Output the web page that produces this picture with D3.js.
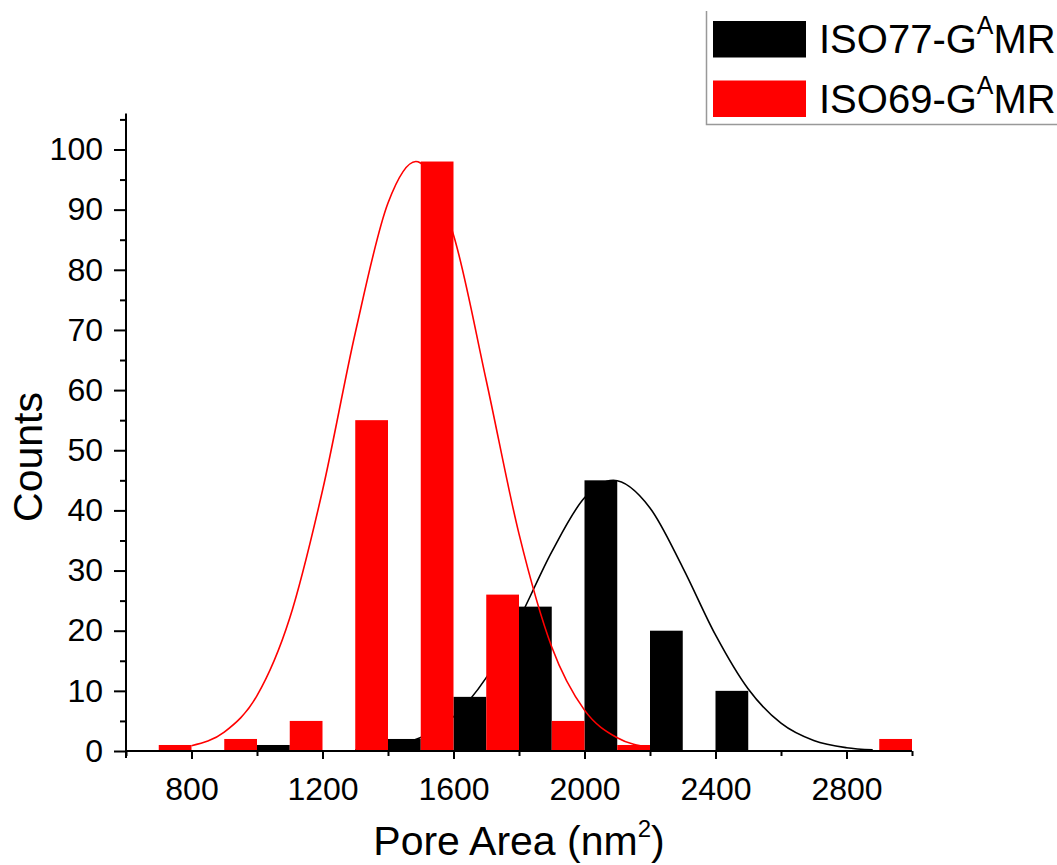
<!DOCTYPE html>
<html>
<head>
<meta charset="utf-8">
<script src="https://d3js.org/d3.v7.min.js"></script>
<style>
  body { margin: 0; background: #fff; }
  svg { display: block; font-family: Arial, "Liberation Sans", sans-serif; }
</style>
</head>
<body>
<svg id="chart" width="1057" height="865"></svg>
<script>
// histogram bins (pore area, nm2) - red bar sits left of the centre, black bar right of it
var binCenters = [800, 1000, 1200, 1400, 1600, 1800, 2000, 2200, 2400, 2600, 2800, 3000];
var iso77Counts = [0, 1, 0, 2, 9, 24, 45, 20, 10, 0, 0, 0];
var iso69Counts = [1, 2, 5, 55, 98, 26, 5, 1, 0, 0, 0, 2];

// gaussian fit curves
var iso77FitX = [1300, 1400, 1500, 1600, 1700, 1800, 1900, 2000, 2088, 2200, 2300, 2400, 2500, 2600, 2700, 2800, 2880];
var iso77FitY = [0.21, 0.74, 2.24, 5.69, 12.2, 21.9, 33.1, 42.1, 45, 40.4, 30.5, 19.3, 10.3, 4.62, 1.74, 0.55, 0.19];
var iso69FitX = [800, 900, 1000, 1100, 1200, 1300, 1400, 1485, 1600, 1700, 1800, 1900, 2000, 2100, 2200];
var iso69FitY = [0.88, 3.14, 9.2, 22.1, 43.3, 69.5, 91.1, 98, 85.8, 61.6, 36.1, 17.3, 6.8, 2.2, 0.57];

var xTicksMajor = [800, 1200, 1600, 2000, 2400, 2800];
var xTicksMinor = [600, 1000, 1400, 1800, 2200, 2600, 3000];
var yTicksMajor = [0, 10, 20, 30, 40, 50, 60, 70, 80, 90, 100];
var yTicksMinor = [5, 15, 25, 35, 45, 55, 65, 75, 85, 95, 105];

var seriesNames = ["ISO77-G", "ISO69-G"];
var seriesColors = ["#000000", "#ff0000"];

var binWidth = 200;

var svg = d3.select("#chart");

var x = d3.scaleLinear().domain([600, 3000]).range([126, 912]);
var y = d3.scaleLinear().domain([0, 106]).range([751, 113.4]);

//zip two arrays into points
function toPoints(xs, ys) {
  return xs.map(function(v, i) { return {x: v, y: ys[i]}; });
}

function drawBars(counts, color, side) {
  svg.append("g")
    .selectAll("rect")
    .data(binCenters.map(function(c, i) { return {c: c, v: counts[i]}; }))
    .enter().append("rect")
    .attr("x", function(d) { return side < 0 ? x(d.c - binWidth / 2) : x(d.c); })
    .attr("width", function(d) { return x(d.c + binWidth / 2) - x(d.c); })
    .attr("y", function(d) { return y(d.v); })
    .attr("height", function(d) { return y(0) - y(d.v); })
    .attr("fill", color);
}

function drawFit(xs, ys, color) {
  var line = d3.line()
    .x(function(d) { return x(d.x); })
    .y(function(d) { return y(d.y); })
    .curve(d3.curveMonotoneX);
  svg.append("path")
    .datum(toPoints(xs, ys))
    .attr("d", line)
    .attr("fill", "none")
    .attr("stroke", color)
    .attr("stroke-width", 1.6);
}

// draw order: black bars, black fit, red fit, red bars
drawBars(iso77Counts, seriesColors[0], 1);
drawFit(iso77FitX, iso77FitY, seriesColors[0]);
drawFit(iso69FitX, iso69FitY, seriesColors[1]);
drawBars(iso69Counts, seriesColors[1], -1);

// axes
var xMinor = d3.axisBottom(x).tickValues(xTicksMinor).tickSize(5).tickFormat("");
var xMajor = d3.axisBottom(x).tickValues(xTicksMajor).tickSize(8).tickPadding(18).tickFormat(d3.format("d"));
var yMinor = d3.axisLeft(y).tickValues(yTicksMinor).tickSize(6).tickFormat("");
var yMajor = d3.axisLeft(y).tickValues(yTicksMajor).tickSize(12).tickPadding(11).tickFormat(d3.format("d"));

[xMinor, xMajor].forEach(function(ax) {
  svg.append("g").attr("class", "axis").attr("transform", "translate(0," + y(0) + ")").call(ax);
});
[yMinor, yMajor].forEach(function(ax) {
  svg.append("g").attr("class", "axis").attr("transform", "translate(" + x(600) + ",0)").call(ax);
});

svg.selectAll(".axis .domain").remove();
svg.selectAll(".axis line").attr("stroke", "#000").attr("stroke-width", 2);
svg.selectAll(".axis text").attr("fill", "#000").attr("font-size", 32).attr("font-family", null);

// axis lines
svg.append("line")
  .attr("x1", x(600)).attr("x2", x(600))
  .attr("y1", y(106)).attr("y2", y(0) + 7)
  .attr("stroke", "#000").attr("stroke-width", 2);
svg.append("line")
  .attr("x1", x(600)).attr("x2", x(3000))
  .attr("y1", y(0)).attr("y2", y(0))
  .attr("stroke", "#000").attr("stroke-width", 2);

// axis titles
var xTitle = svg.append("text")
  .attr("x", (x(600) + x(3000)) / 2)
  .attr("y", 855)
  .attr("text-anchor", "middle")
  .attr("font-size", 41);
xTitle.append("tspan").text("Pore Area (nm");
xTitle.append("tspan").attr("font-size", 24).attr("dy", -18).text("2");
xTitle.append("tspan").attr("dy", 18).text(")");

svg.append("text")
  .attr("transform", "translate(42,457) rotate(-90)")
  .attr("text-anchor", "middle")
  .attr("font-size", 41)
  .text("Counts");

// legend, cut off by the right edge like the original
var legend = svg.append("g");
legend.append("path")
  .attr("d", "M706.5,11V124.5H1057")
  .attr("fill", "none")
  .attr("stroke", "#999")
  .attr("stroke-width", 1.5);

seriesNames.forEach(function(name, i) {
  var top = 21 + i * 59.5;
  legend.append("rect")
    .attr("x", 713).attr("y", top)
    .attr("width", 93).attr("height", 36.5)
    .attr("fill", seriesColors[i]);
  var t = legend.append("text")
    .attr("x", 819).attr("y", top + 32)
    .attr("font-size", 40);
  t.append("tspan").text(name);
  t.append("tspan").attr("font-size", 25).attr("dy", -19).text("A");
  t.append("tspan").attr("dy", 19).text("MR");
});
</script>
</body>
</html>
